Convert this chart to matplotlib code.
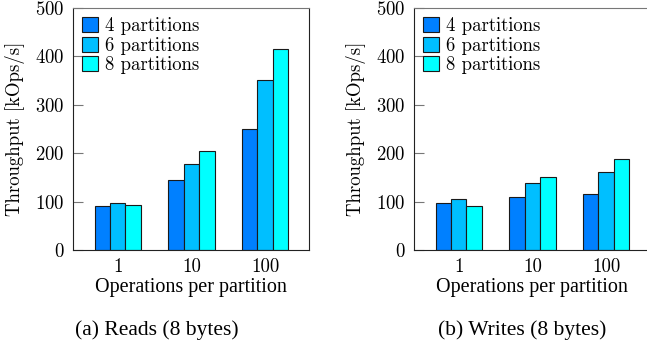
import matplotlib.pyplot as plt
import numpy as np

plt.rcParams['axes.formatter.use_mathtext'] = True

ops = ['1', '10', '100']
series = ['4 partitions', '6 partitions', '8 partitions']
colors = ['#0080ff', '#00bfff', '#00ffff']

reads_4 = [91, 145, 249]
reads_6 = [98, 177, 351]
reads_8 = [94, 204, 415]

writes_4 = [98, 110, 116]
writes_6 = [105, 138, 162]
writes_8 = [91, 150, 187]

reads = [reads_4, reads_6, reads_8]
writes = [writes_4, writes_6, writes_8]

cm = 'cmr10'
times = 'Liberation Serif'

fig = plt.figure(figsize=(6.47, 3.45), dpi=100)
W, H = 647, 345


def panel(x0, data, caption, cap_x):
    ax = fig.add_axes([x0 / W, 95 / H, 236 / W, 242 / H])
    x = np.arange(len(ops))
    w = 0.21
    for i, (vals, lab, c) in enumerate(zip(data, series, colors)):
        ax.bar(x + (i - 1) * w, vals, w, color=c, edgecolor='#1a1a1a',
               linewidth=0.8, label=lab)
    ax.set_xlim(-0.607, 2.596)
    ax.set_ylim(0, 500)
    ax.set_yticks([0, 100, 200, 300, 400, 500])
    ax.set_xticks(x)
    ax.set_xticklabels(ops)
    ax.tick_params(axis='y', direction='in', length=7, color='#777777',
                   labelsize=13.5, pad=6)
    ax.tick_params(axis='x', length=0, labelsize=13.5, pad=6)
    for t in ax.get_xticklabels() + ax.get_yticklabels():
        t.set_fontfamily(cm)
    ax.spines['top'].set_color('#777777')
    for s in ['left', 'bottom', 'right']:
        ax.spines[s].set_color('#222222')
    ax.set_ylabel('Throughput [kOps/s]', fontfamily=cm, fontsize=13.5,
                  va='center')
    ax.yaxis.set_label_coords(-0.246, 0.5)
    ax.set_xlabel('Operations per partition', fontfamily=times,
                  fontsize=14.5, va='center')
    ax.xaxis.set_label_coords(0.5, -0.157)
    ax.legend(loc='upper left', frameon=False,
              prop={'family': cm, 'size': 13.5},
              handlelength=0.85, handleheight=0.85, handletextpad=0.35,
              labelspacing=0.07, borderaxespad=0.2, borderpad=0.3)
    fig.text(cap_x / W, 1 - 330 / H, caption, ha='center', va='center',
             fontfamily=times, fontsize=15.5)
    return ax


panel(73, reads, '(a) Reads (8 bytes)', 157)
panel(414, writes, '(b) Writes (8 bytes)', 522)

fig.savefig('out.png', dpi=100)
